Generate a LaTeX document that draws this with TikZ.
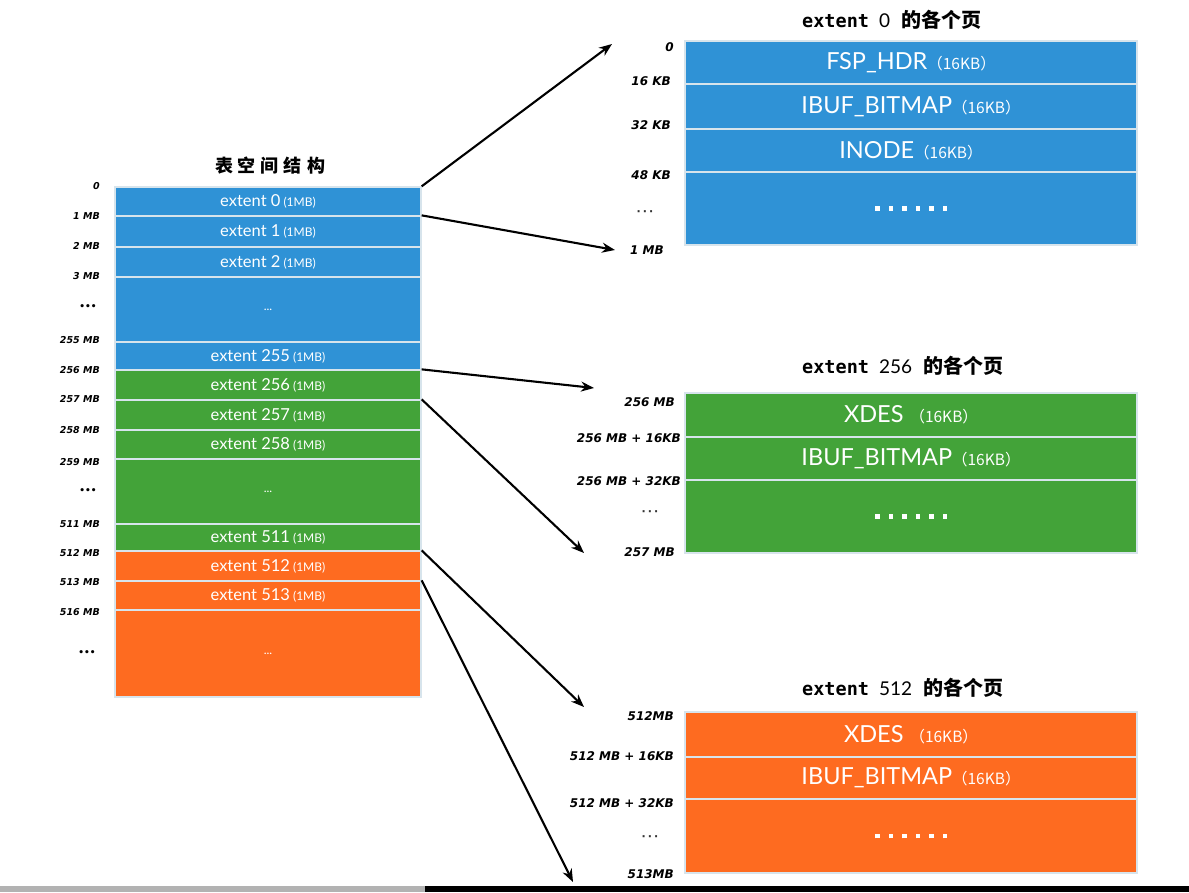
\documentclass[tikz,border=0pt]{standalone}
\usepackage{fontspec}
\setmainfont{Lato}
\newfontfamily\cjk{Noto Sans CJK SC}
\newfontfamily\marker{DejaVu Sans}
\newfontfamily\monob{DejaVu Sans Mono}
\usetikzlibrary{arrows.meta}
\definecolor{cblue}{RGB}{47,146,214}
\definecolor{cgreen}{RGB}{67,163,57}
\definecolor{corange}{RGB}{254,107,32}
\definecolor{csep}{RGB}{215,228,236}
\tikzset{
  cell/.style={draw=csep, line width=1.3pt, inner sep=0pt, text=white, font=\fontsize{16.5}{16.5}\selectfont},
  lcell/.style={cell, minimum width=306pt},
  rcell/.style={cell, minimum width=452pt, font=\fontsize{23.5}{23.5}\selectfont},
  addr/.style={font=\marker\bfseries\itshape\fontsize{9.5}{9.5}\selectfont, inner sep=0pt, anchor=east},
  raddr/.style={addr, font=\marker\bfseries\itshape\fontsize{12}{12}\selectfont},
  vdots/.style={font=\marker\bfseries\fontsize{9}{9}\selectfont, inner sep=0pt},
  sdots/.style={font=\marker\bfseries\fontsize{11}{11}\selectfont, inner sep=0pt, text=black!80},
  ttl/.style={inner sep=0pt, anchor=west},
  arr/.style={line width=2.1pt, -{Stealth[length=13pt,width=10pt]}},
}
\newcommand{\mb}{{\fontsize{12}{12}\selectfont\ (1MB)}}
\newcommand{\kb}{{\cjk\fontsize{15.5}{15.5}\selectfont （16KB）}}
\newcommand{\sq}{\rule{4.5pt}{4.5pt}}
\newcommand{\bigdots}{\sq\kern9pt\sq\kern9pt\sq\kern9pt\sq\kern9pt\sq\kern9pt\sq}
\newcommand{\smdots}{{\fontsize{12}{12}\selectfont ...}}
\newcommand{\rdots}{·\kern2pt·\kern2pt·}
\newcommand{\ptitle}[1]{{\monob\bfseries\fontsize{18.5}{18.5}\selectfont extent\kern10pt{\fontsize{19}{19}\selectfont\mdseries\rmfamily #1}\kern11pt{\cjk\bfseries\fontsize{20}{20}\selectfont 的各个页}}}
\begin{document}
\begin{tikzpicture}[x=1pt,y=-1pt]
\useasboundingbox (0,0) rectangle (1189,892);
% bottom strip
\fill[gray!60] (0,886) rectangle (425,892);
\fill[black] (425,886) rectangle (1189,892);

% main title
\node[inner sep=0pt, font=\cjk\bfseries\fontsize{18}{18}\selectfont] (title) at (270,166) {表\kern5pt 空\kern5pt 间\kern5pt 结\kern5pt 构};

% left column
\node[lcell, fill=cblue, minimum height=29pt] (e0) at (268,201.5) {extent 0\mb};
\node[lcell, fill=cblue, minimum height=31pt] (e1) at (268,231.5) {extent 1\mb};
\node[lcell, fill=cblue, minimum height=30pt] (e2) at (268,262) {extent 2\mb};
\node[lcell, fill=cblue, minimum height=65pt] (ed1) at (268,309.5) {\smdots};
\node[lcell, fill=cblue, minimum height=28pt] (e255) at (268,356) {extent 255\mb};
\node[lcell, fill=cgreen, minimum height=30pt] (e256) at (268,385) {extent 256\mb};
\node[lcell, fill=cgreen, minimum height=30pt] (e257) at (268,415) {extent 257\mb};
\node[lcell, fill=cgreen, minimum height=29pt] (e258) at (268,444.5) {extent 258\mb};
\node[lcell, fill=cgreen, minimum height=65pt] (ed2) at (268,491.5) {\smdots};
\node[lcell, fill=cgreen, minimum height=27pt] (e511) at (268,537.5) {extent 511\mb};
\node[lcell, fill=corange, minimum height=30pt] (e512) at (268,566) {extent 512\mb};
\node[lcell, fill=corange, minimum height=29pt] (e513) at (268,595.5) {extent 513\mb};
\node[lcell, fill=corange, minimum height=87pt] (ed3) at (268,653.5) {\smdots};

% left addresses
\node[addr] (la0) at (100,186) {0};
\node[addr] (la1) at (100,216) {1 MB};
\node[addr] (la2) at (100,246) {2 MB};
\node[addr] (la3) at (100,276) {3 MB};
\node[vdots] (la4) at (88,307) {•••};
\node[addr] (la5) at (100,340) {255 MB};
\node[addr] (la6) at (100,370) {256 MB};
\node[addr] (la7) at (100,399) {257 MB};
\node[addr] (la8) at (100,430) {258 MB};
\node[addr] (la9) at (100,462) {259 MB};
\node[vdots] (la10) at (88,491) {•••};
\node[addr] (la11) at (100,524) {511 MB};
\node[addr] (la12) at (100,553) {512 MB};
\node[addr] (la13) at (100,582) {513 MB};
\node[addr] (la14) at (100,612) {516 MB};
\node[vdots] (la15) at (87,653) {•••};

% extent 0 pages
\node[ttl] (t0) at (802,20) {\ptitle{0}};
\node[rcell, fill=cblue, minimum height=43pt] (a1) at (911,62.5) {FSP\_HDR\kb};
\node[rcell, fill=cblue, minimum height=45pt] (a2) at (911,106.5) {IBUF\_BITMAP\kb};
\node[rcell, fill=cblue, minimum height=43pt] (a3) at (911,150.5) {INODE\kb};
\node[rcell, fill=cblue, minimum height=73pt] (a4) at (911,208.5) {\bigdots};
\node[raddr] (aa0) at (674,47) {0};
\node[raddr] (aa1) at (671,81) {16 KB};
\node[raddr] (aa2) at (671,125) {32 KB};
\node[raddr] (aa3) at (671,175) {48 KB};
\node[sdots] (aa4) at (645,213) {\rdots};
\node[raddr] (aa5) at (664,250) {1 MB};

% extent 256 pages
\node[ttl] (t256) at (802,366) {\ptitle{256}};
\node[rcell, fill=cgreen, minimum height=44pt] (b1) at (911,415) {XDES\ \kb};
\node[rcell, fill=cgreen, minimum height=43pt] (b2) at (911,458.5) {IBUF\_BITMAP\kb};
\node[rcell, fill=cgreen, minimum height=73pt] (b3) at (911,516.5) {\bigdots};
\node[raddr] (ba0) at (675,402) {256 MB};
\node[raddr] (ba1) at (681,438) {256 MB + 16KB};
\node[raddr] (ba2) at (681,481) {256 MB + 32KB};
\node[sdots] (ba3) at (650,513) {\rdots};
\node[raddr] (ba4) at (675,552) {257 MB};

% extent 512 pages
\node[ttl] (t512) at (802,688) {\ptitle{512}};
\node[rcell, fill=corange, minimum height=45pt] (c1) at (911,734.5) {XDES\ \kb};
\node[rcell, fill=corange, minimum height=42pt] (c2) at (911,778) {IBUF\_BITMAP\kb};
\node[rcell, fill=corange, minimum height=74pt] (c3) at (911,836) {\bigdots};
\node[raddr] (ca0) at (674,716) {512MB};
\node[raddr] (ca1) at (674,756) {512 MB + 16KB};
\node[raddr] (ca2) at (674,803) {512 MB + 32KB};
\node[sdots] (ca3) at (650,838) {\rdots};
\node[raddr] (ca4) at (674,874) {513MB};

% arrow ends
\coordinate (pA1) at (612,44);
\coordinate (pA2) at (615,250);
\coordinate (pB1) at (594,388);
\coordinate (pB2) at (584,553);
\coordinate (pC1) at (584,707);
\coordinate (pC2) at (573,882);

\draw[arr] (e0.north east) -- (pA1);
\draw[arr] (e1.north east) -- (pA2);
\draw[arr] (e256.north east) -- (pB1);
\draw[arr] (e257.north east) -- (pB2);
\draw[arr] (e512.north east) -- (pC1);
\draw[arr] (e513.north east) -- (pC2);
\end{tikzpicture}
\end{document}
